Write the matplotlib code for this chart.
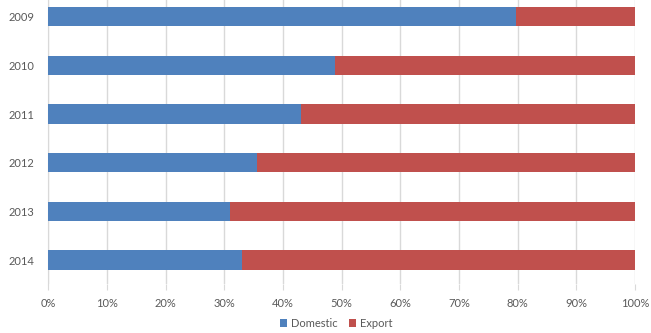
import matplotlib.pyplot as plt
from matplotlib.ticker import MultipleLocator, PercentFormatter

# Domestic vs export share by year (percent of total)
years = ['2009', '2010', '2011', '2012', '2013', '2014']
domestic = [79.7, 48.9, 43.0, 35.5, 31.0, 33.1]
export = [100 - d for d in domestic]

blue = '#4F81BD'
red = '#C0504D'
grid = '#D9D9D9'
text = '#595959'

plt.rcParams['font.family'] = ['Lato', 'DejaVu Sans']

fig = plt.figure(figsize=(6.51, 3.33), dpi=100)
# plot area runs slightly past the top edge of the figure
ax = fig.add_axes([48.3 / 651, 48.6 / 333, 586.7 / 651, 292.0 / 333])

pos = list(range(len(years)))
ax.barh(pos, domestic, height=0.4, color=blue, label='Domestic', zorder=3)
ax.barh(pos, export, left=domestic, height=0.4, color=red, label='Export', zorder=3)

ax.set_xlim(0, 100)
ax.set_ylim(len(years) - 0.5, -0.5)
ax.set_yticks(pos)
ax.set_yticklabels(years)
ax.xaxis.set_major_locator(MultipleLocator(10))
ax.xaxis.set_major_formatter(PercentFormatter(decimals=0))

ax.grid(axis='x', color=grid, linewidth=1, zorder=0)
for side in ['top', 'right', 'bottom']:
    ax.spines[side].set_visible(False)
ax.spines['left'].set_color(grid)

ax.tick_params(axis='x', length=4, color=grid, labelsize=8, labelcolor=text, pad=6)
ax.tick_params(axis='y', length=0, labelsize=8, labelcolor=text, pad=10)

fig.legend(loc='center', bbox_to_anchor=(0.516, 0.03), ncol=2, frameon=False,
           fontsize=8, handlelength=0.7, handleheight=0.7, handletextpad=0.3,
           columnspacing=1.0, labelcolor=text)

fig.savefig('out.png', dpi=100)
